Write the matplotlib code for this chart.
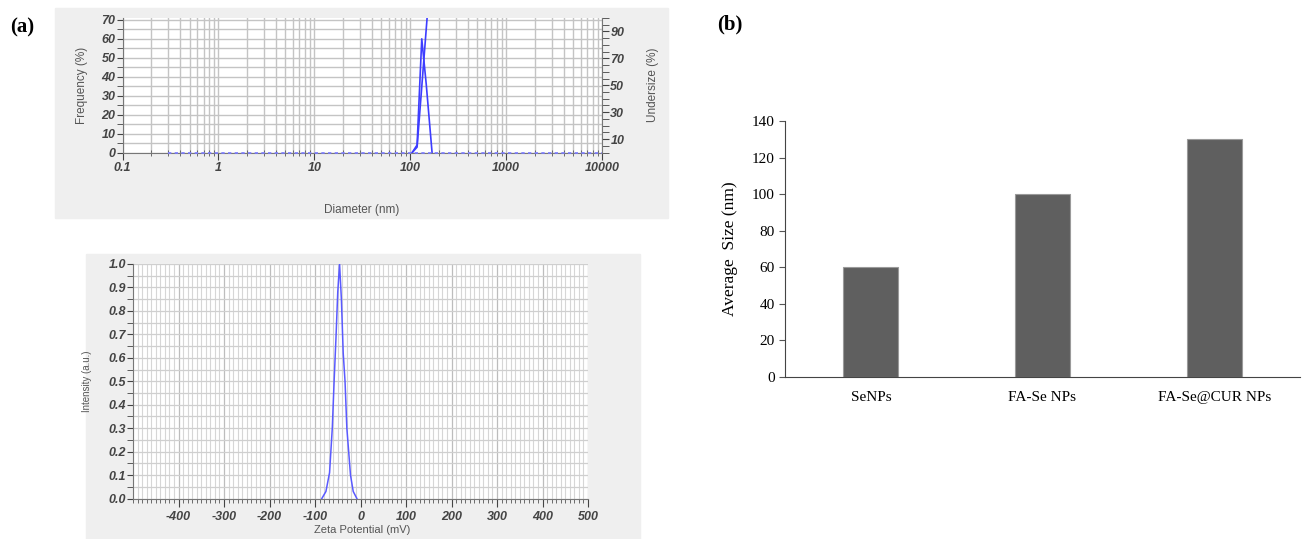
import numpy as np
import matplotlib
matplotlib.use('Agg')
import matplotlib.pyplot as plt
from matplotlib.patches import Rectangle
from matplotlib.ticker import MultipleLocator, LogLocator, FixedLocator, NullFormatter

# size distribution (DLS)
diam_freq = [105, 118, 132, 147, 169]
freq = [0, 4, 60, 36, 0]
diam_cum = [105, 118, 150]
undersize = [0, 4, 100]
diam_base = [0.3, 10000]
base_vals = [0, 0]

# zeta potential
zeta = [-85, -76, -68, -62, -58, -54, -50, -46, -42, -38, -34, -30, -22, -16, -8]
intensity = [0, 0.03, 0.11, 0.3, 0.5, 0.68, 0.88, 1.0, 0.85, 0.62, 0.5, 0.3, 0.1, 0.03, 0]

# average size bars
samples = ['SeNPs', 'FA-Se NPs', 'FA-Se@CUR NPs']
avg_size = [60, 100, 130]

W, H = 1309, 539
fig = plt.figure(figsize=(W / 100, H / 100), dpi=100)


def px_axes(x0, y0, x1, y1):
    # pixel box (top-left origin) -> figure axes
    return fig.add_axes([x0 / W, 1 - y1 / H, (x1 - x0) / W, (y1 - y0) / H])


def px_rect(x0, y0, x1, y1, color):
    fig.patches.append(Rectangle((x0 / W, 1 - y1 / H), (x1 - x0) / W, (y1 - y0) / H,
                                 transform=fig.transFigure, color=color, zorder=-5))


gray_bg = '#efefef'
tick_font = dict(family='Liberation Sans', weight='bold', style='italic', size=9)
lab_color = '#555555'
blue = '#3d3dff'

# ---------- (a) top: diameter ----------
px_rect(55, 8, 668, 218, gray_bg)
ax1 = px_axes(122.5, 18, 602, 152.5)
ax1.set_xscale('log')
ax1.plot(diam_base, base_vals, color='#7a7aff', lw=1.2, ls=(0, (2, 2)), zorder=5,
         clip_on=False)
ax1.plot(diam_freq, freq, color=blue, lw=1.2, zorder=4)
ax1.plot(diam_cum, [u * 0.71 for u in undersize], color=blue, lw=1.2, zorder=4)
ax1.xaxis.set_minor_locator(LogLocator(base=10, subs=np.arange(2, 10), numticks=20))
ax1.xaxis.set_minor_formatter(NullFormatter())
ax1.set_xticks([0.1, 1, 10, 100, 1000, 10000])
ax1.set_xticklabels(['0.1', '1', '10', '100', '1000', '10000'], **tick_font)
ax1.set_yticks(np.arange(0, 71, 10))
ax1.set_yticklabels([str(v) for v in range(0, 71, 10)], **tick_font)
ax1.yaxis.set_minor_locator(MultipleLocator(5))
ax1.set_xlim(0.1, 10000)
ax1.set_ylim(0, 71)
ax1.grid(which='both', axis='both', color='#c4c4c4', lw=1)
ax1.tick_params(axis='x', which='major', direction='out', length=5, pad=2, colors='#444444')
ax1.tick_params(axis='x', which='minor', direction='inout', length=4, colors='#555555')
ax1.tick_params(axis='y', which='both', direction='out', length=4, pad=1, colors='#444444')
for sp in ['top', 'right']:
    ax1.spines[sp].set_visible(False)
for sp in ['left', 'bottom']:
    ax1.spines[sp].set_color('#777777')
fig.text(362 / W, 1 - 210 / H, 'Diameter (nm)', fontsize=8.5, color=lab_color,
         family='Liberation Sans', ha='center', va='center')
ax1.set_ylabel('Frequency (%)', fontsize=8.5, color=lab_color, labelpad=10,
               family='Liberation Sans')

ax1r = ax1.twinx()
ax1r.set_ylim(0, 100)
ax1r.yaxis.set_major_locator(FixedLocator([10, 30, 50, 70, 90]))
ax1r.yaxis.set_minor_locator(MultipleLocator(5))
ax1r.set_yticklabels(['10', '30', '50', '70', '90'], **tick_font)
ax1r.tick_params(axis='y', which='both', direction='out', length=5, pad=1, colors='#444444')
ax1r.spines['right'].set_color('#777777')
for sp in ['top', 'left', 'bottom']:
    ax1r.spines[sp].set_visible(False)
ax1r.set_ylabel('Undersize (%)', fontsize=8.5, color=lab_color, rotation=90,
                labelpad=16, family='Liberation Sans')

# ---------- (a) bottom: zeta potential ----------
px_rect(86, 254, 640, 539, gray_bg)
ax2 = px_axes(133, 264, 588, 498.5)
ax2.plot(zeta, intensity, color='#5a5aff', lw=1.1, zorder=4)
ax2.set_xticks([-400, -300, -200, -100, 0, 100, 200, 300, 400, 500])
ax2.set_xticklabels(['-400', '-300', '-200', '-100', '0', '100', '200', '300', '400', '500'],
                    **tick_font)
ax2.xaxis.set_minor_locator(MultipleLocator(10))
ax2.set_yticks(np.round(np.arange(0, 1.01, 0.1), 1))
ax2.set_yticklabels(['%.1f' % v for v in np.arange(0, 1.01, 0.1)], **tick_font)
ax2.yaxis.set_minor_locator(MultipleLocator(0.05))
ax2.set_xlim(-500, 500)
ax2.set_ylim(0, 1.0)
ax2.grid(which='major', axis='x', color='#bdbdbd', lw=0.9)
ax2.grid(which='minor', axis='x', color='#d6d6d6', lw=0.8)
ax2.grid(which='both', axis='y', color='#cfcfcf', lw=0.9)
ax2.tick_params(axis='x', which='major', direction='out', length=6, pad=3, colors='#444444')
ax2.tick_params(axis='x', which='minor', direction='out', length=3, colors='#555555')
ax2.tick_params(axis='y', which='both', direction='out', length=4, pad=1, colors='#444444')
for sp in ['top', 'right']:
    ax2.spines[sp].set_visible(False)
for sp in ['left', 'bottom']:
    ax2.spines[sp].set_color('#777777')
fig.text(362 / W, 1 - 530 / H, 'Zeta Potential (mV)', fontsize=8, color=lab_color,
         family='Liberation Sans', ha='center', va='center')
ax2.set_ylabel('Intensity (a.u.)', fontsize=7, color=lab_color, labelpad=12,
               family='Liberation Sans')

# ---------- (b) average size ----------
ax3 = px_axes(785, 121, 1300, 377)
x = np.arange(len(samples))
ax3.bar(x, avg_size, width=0.32, color='#5f5f5f', edgecolor='#9a9a9a', lw=0.8)
ax3.set_xlim(-0.5, 2.5)
ax3.set_ylim(0, 140)
ax3.set_yticks(np.arange(0, 141, 20))
ax3.set_yticklabels([str(v) for v in range(0, 141, 20)], family='Liberation Serif', fontsize=11)
ax3.set_xticks(x)
ax3.set_xticklabels(samples, family='Liberation Serif', fontsize=11)
ax3.tick_params(axis='x', length=0, pad=10)
ax3.tick_params(axis='y', direction='out', length=4, color='#555555')
for sp in ['top', 'right']:
    ax3.spines[sp].set_visible(False)
for sp in ['left', 'bottom']:
    ax3.spines[sp].set_color('#444444')
ax3.set_ylabel('Average  Size (nm)', family='Liberation Serif', fontsize=12.5, labelpad=10)

fig.text(10 / W, 1 - 27 / H, '(a)', family='Liberation Serif', weight='bold',
         fontsize=15, va='center', ha='left')
fig.text(717 / W, 1 - 24 / H, '(b)', family='Liberation Serif', weight='bold',
         fontsize=15, va='center', ha='left')

fig.savefig('out.png', dpi=100)
